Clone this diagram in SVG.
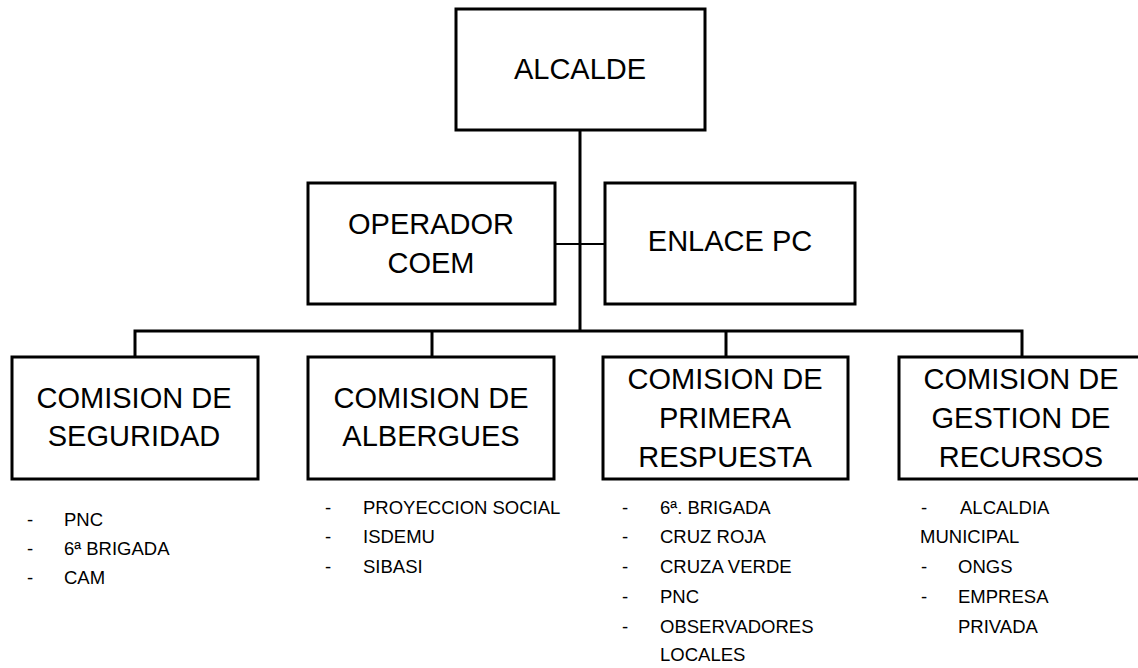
<svg xmlns="http://www.w3.org/2000/svg" width="1138" height="668" viewBox="0 0 1138 668">
<style>
.box{fill:#fff;stroke:#000;stroke-width:3}
.t{font-family:"Liberation Sans",Arial,sans-serif;font-size:29px;fill:#000;text-anchor:middle}
.l{font-family:"Liberation Sans",Arial,sans-serif;font-size:18.5px;fill:#000}
.c{fill:none;stroke:#000;stroke-width:3}
</style>
<rect width="1138" height="668" fill="#fff"/>
<g id="connectors">
<line class="c" x1="580" y1="130" x2="580" y2="331"/>
<line class="c" x1="555" y1="244" x2="605" y2="244" style="stroke-width:2"/>
<polyline class="c" points="135,357 135,331 1022,331 1022,357"/>
<line class="c" x1="432" y1="331" x2="432" y2="357"/>
<line class="c" x1="726" y1="331" x2="726" y2="357"/>
</g>
<g id="alcalde">
<rect class="box" x="456" y="9" width="249" height="121"/>
<text class="t" x="580" y="79">ALCALDE</text>
</g>
<g id="operador">
<rect class="box" x="308" y="183" width="247" height="121"/>
<text class="t" x="431" y="234">OPERADOR</text>
<text class="t" x="431" y="273">COEM</text>
</g>
<g id="enlace">
<rect class="box" x="605" y="183" width="250" height="121"/>
<text class="t" x="730" y="251">ENLACE PC</text>
</g>
<g id="seguridad">
<rect class="box" x="12" y="357" width="246" height="122"/>
<text class="t" x="134" y="408">COMISION DE</text>
<text class="t" x="134" y="446">SEGURIDAD</text>
</g>
<g id="albergues">
<rect class="box" x="308" y="357" width="246" height="122"/>
<text class="t" x="431" y="408">COMISION DE</text>
<text class="t" x="431" y="446">ALBERGUES</text>
</g>
<g id="primera">
<rect class="box" x="603" y="357" width="245" height="122"/>
<text class="t" x="725" y="389">COMISION DE</text>
<text class="t" x="725" y="428">PRIMERA</text>
<text class="t" x="725" y="467">RESPUESTA</text>
</g>
<g id="gestion">
<rect class="box" x="899" y="357" width="245" height="122"/>
<text class="t" x="1021" y="389">COMISION DE</text>
<text class="t" x="1021" y="428">GESTION DE</text>
<text class="t" x="1021" y="467">RECURSOS</text>
</g>
<g id="lista-seguridad" class="l">
<text x="27" y="526">-</text><text x="64" y="526">PNC</text>
<text x="27" y="555">-</text><text x="64" y="555">6ª BRIGADA</text>
<text x="27" y="584">-</text><text x="64" y="584">CAM</text>
</g>
<g id="lista-albergues" class="l">
<text x="325" y="514">-</text><text x="363" y="514">PROYECCION SOCIAL</text>
<text x="325" y="543">-</text><text x="363" y="543">ISDEMU</text>
<text x="325" y="573">-</text><text x="363" y="573">SIBASI</text>
</g>
<g id="lista-primera" class="l">
<text x="622" y="514">-</text><text x="660" y="514">6ª. BRIGADA</text>
<text x="622" y="543">-</text><text x="660" y="543">CRUZ ROJA</text>
<text x="622" y="573">-</text><text x="660" y="573">CRUZA VERDE</text>
<text x="622" y="603">-</text><text x="660" y="603">PNC</text>
<text x="622" y="633">-</text><text x="660" y="633">OBSERVADORES</text>
<text x="660" y="661">LOCALES</text>
</g>
<g id="lista-gestion" class="l">
<text x="921" y="514">-</text><text x="960" y="514">ALCALDIA</text>
<text x="920" y="543">MUNICIPAL</text>
<text x="921" y="573">-</text><text x="958" y="573">ONGS</text>
<text x="921" y="603">-</text><text x="958" y="603">EMPRESA</text>
<text x="958" y="633">PRIVADA</text>
</g>
</svg>
